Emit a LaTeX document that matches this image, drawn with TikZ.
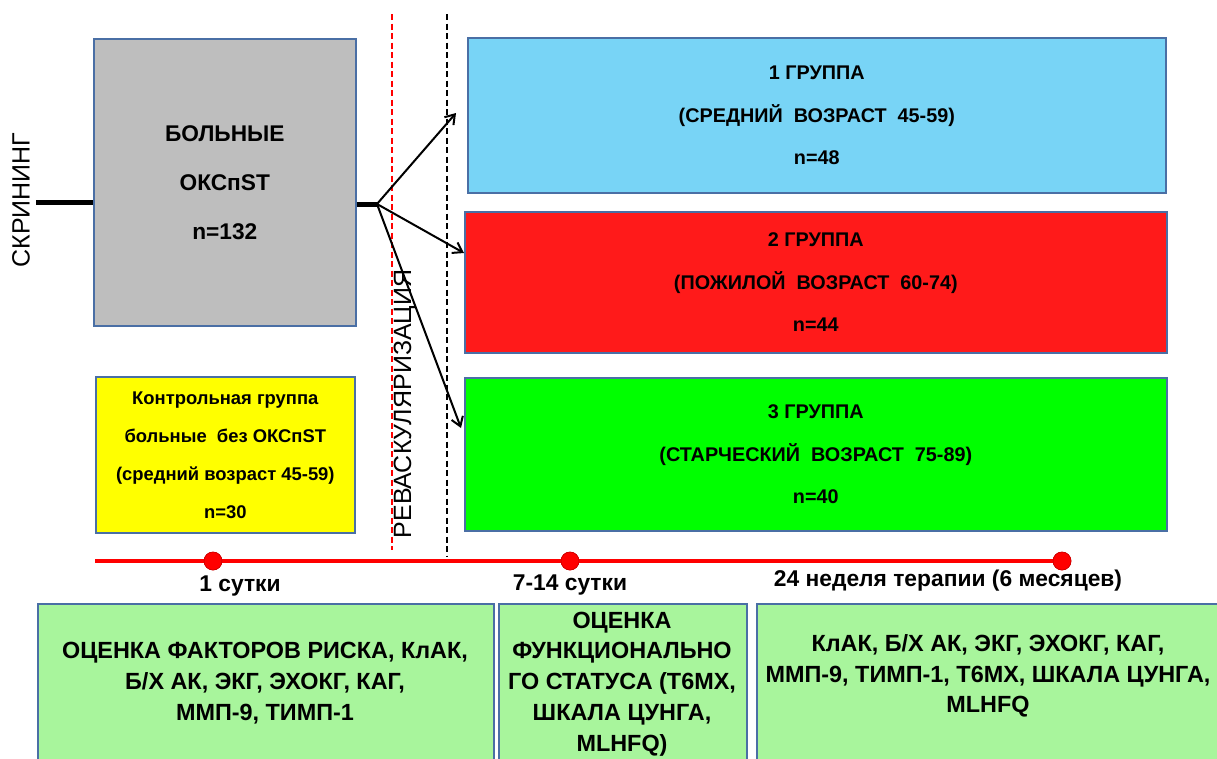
\documentclass[tikz,border=0pt]{standalone}
\usepackage{fontspec}
\setmainfont{Liberation Sans}
\usetikzlibrary{arrows.meta}
\definecolor{graybox}{HTML}{BEBEBE}
\definecolor{boxblue}{HTML}{4A6FA5}
\definecolor{bluefill}{HTML}{78D4F6}
\definecolor{redfill}{HTML}{FF1A1A}
\definecolor{greenfill}{HTML}{00FF00}
\definecolor{yellowfill}{HTML}{FFFF00}
\definecolor{lightgreen}{HTML}{A8F59C}
\definecolor{tlred}{HTML}{FF0000}
\begin{document}
\begin{tikzpicture}[x=1pt,y=-1pt,
  box/.style={draw=boxblue, line width=1.6pt, anchor=north west, inner sep=0pt, align=center, text=black},
  bigtxt/.style={font=\fontsize{22.7}{49}\selectfont\bfseries},
  grptxt/.style={font=\fontsize{19.8}{42.5}\selectfont\bfseries},
  ctltxt/.style={font=\fontsize{18.4}{38}\selectfont\bfseries},
  bottxt/.style={font=\fontsize{23.4}{30.8}\selectfont\bfseries, align=center},
  tltxt/.style={font=\fontsize{22.8}{24}\selectfont\bfseries},
  vtxt/.style={font=\fontsize{25}{28}\selectfont, rotate=90},
  thick line/.style={line width=5pt},
  arrowline/.style={line width=2pt, -{Straight Barb[length=9pt,width=12pt]}},
  dot/.style={circle, fill=tlred, draw=red!80!black, line width=0.6pt, minimum size=18pt, inner sep=0pt}
]
\useasboundingbox (0,0) rectangle (1217,758);
\fill[white] (0,0) rectangle (1217,758);

% screening
\node[vtxt] (scr) at (21,200) {СКРИНИНГ};

% main gray box
\node[box, fill=graybox, bigtxt, minimum width=262pt, minimum height=287pt] (gray) at (93,38) {БОЛЬНЫЕ\\ОКСпST\\n=132};
\coordinate (scrend) at (36,202);
\draw[thick line] (scrend) -- (gray.west |- scrend);
\coordinate (fork) at (377,204);
\draw[thick line] (gray.east |- fork) -- (fork);

% control group
\node[box, fill=yellowfill, ctltxt, minimum width=259pt, minimum height=156pt] (ctl) at (95,376) {Контрольная группа\\больные\ \ без ОКСпST\\(средний возраст 45-59)\\n=30};

% dashed lines
\coordinate (rtop) at (392,14);
\coordinate (rbot) at (392,550);
\coordinate (btop) at (447,14);
\coordinate (bbot) at (447,556);
\draw[tlred, line width=1.6pt, dash pattern=on 6pt off 3.5pt] (rtop) -- (rbot);
\draw[black, line width=1.6pt, dash pattern=on 6pt off 3.5pt] (btop) -- (bbot);
\node[vtxt] (revasc) at (405,404) {РЕВАСКУЛЯРИЗАЦИЯ};

% groups
\node[box, fill=bluefill, grptxt, minimum width=698pt, minimum height=155pt] (g1) at (467,37) {1 ГРУППА\\(СРЕДНИЙ\ \ ВОЗРАСТ\ \ 45-59)\\n=48};
\node[box, fill=redfill, grptxt, minimum width=702pt, minimum height=141pt] (g2) at (464,211) {2 ГРУППА\\(ПОЖИЛОЙ\ \ ВОЗРАСТ\ \ 60-74)\\n=44};
\node[box, fill=greenfill, grptxt, minimum width=702pt, minimum height=153pt] (g3) at (464,377) {3 ГРУППА\\(СТАРЧЕСКИЙ\ \ ВОЗРАСТ\ \ 75-89)\\n=40};

% arrows
\coordinate (t1) at (456,113);
\coordinate (t2) at (464,253);
\coordinate (t3) at (461,428);
\draw[arrowline] (fork) -- (t1);
\draw[arrowline] (fork) -- (t2);
\draw[arrowline] (fork) -- (t3);

% timeline
\coordinate (tlstart) at (95,561);
\node[dot] (d1) at (213,561) {};
\node[dot] (d2) at (570,561) {};
\node[dot] (d3) at (1062,561) {};
\draw[tlred, line width=3.5pt] (tlstart) -- (d1) -- (d2) -- (d3.center);
\node[dot] at (d1) {};
\node[dot] at (d2) {};
\node[dot] at (d3) {};
\node[tltxt] (l1) at (240,586) {1 сутки};
\node[tltxt] (l2) at (570,585) {7-14 сутки};
\node[tltxt] (l3) at (948,581) {24 неделя терапии (6 месяцев)};

% bottom boxes
\node[box, fill=lightgreen, minimum width=456pt, minimum height=170pt] (b1) at (37,603) {};
\node[box, fill=lightgreen, minimum width=248pt, minimum height=170pt] (b2) at (498,603) {};
\node[box, fill=lightgreen, minimum width=480pt, minimum height=170pt] (b3) at (756,603) {};
\node[bottxt] (b1t) at (265,683) {ОЦЕНКА ФАКТОРОВ РИСКА, КлАК,\\Б/Х АК, ЭКГ, ЭХОКГ, КАГ,\\ММП-9, ТИМП-1};
\node[bottxt] (b2t) at (622,684) {ОЦЕНКА\\ФУНКЦИОНАЛЬНО\\ГО СТАТУСА (Т6МХ,\\ШКАЛА ЦУНГА,\\MLHFQ)};
\node[bottxt] (b3t) at (988,676) {КлАК, Б/Х АК, ЭКГ, ЭХОКГ, КАГ,\\ММП-9, ТИМП-1, Т6МХ, ШКАЛА ЦУНГА,\\MLHFQ};
\end{tikzpicture}
\end{document}
